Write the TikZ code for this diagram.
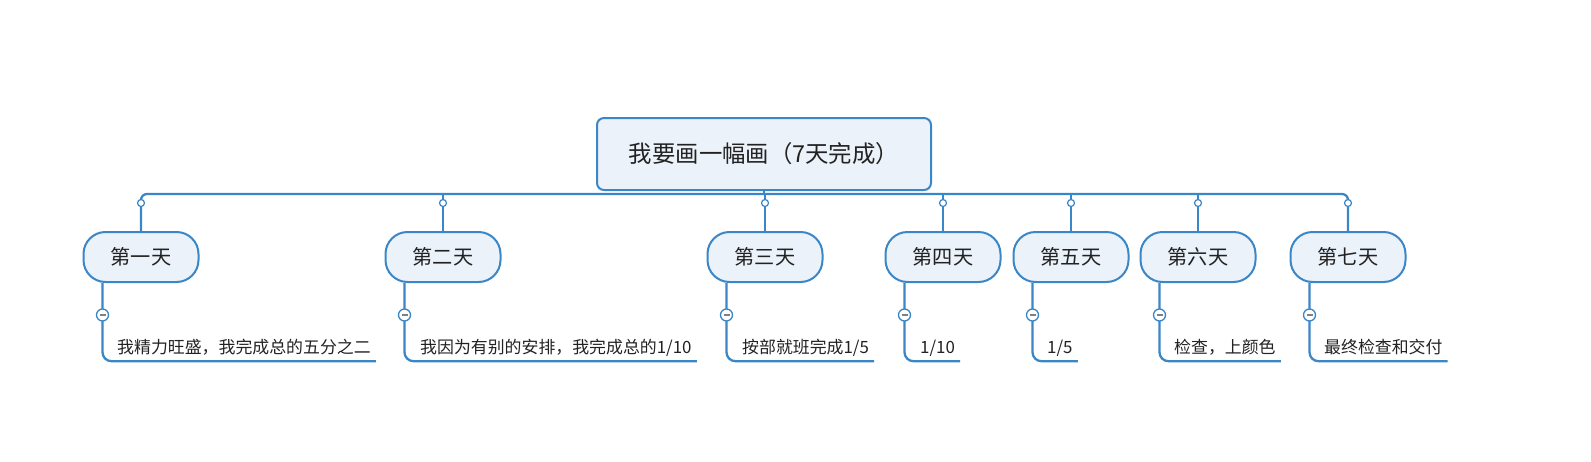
\documentclass[tikz,border=0pt]{standalone}
\usepackage{fontspec}
\setmainfont{Noto Sans CJK SC}
\definecolor{mblue}{HTML}{3A86C6}
\definecolor{mfill}{HTML}{EBF2FA}
\definecolor{mtext}{HTML}{222222}
\begin{document}
\begin{tikzpicture}[x=1pt,y=-1pt,
  conn/.style={draw=mblue, line width=2.3pt},
  rootbox/.style={draw=mblue, fill=mfill, line width=2pt, rounded corners=7pt,
    minimum width=334pt, minimum height=72pt, text=mtext,
    font=\fontsize{23.4}{28}\selectfont},
  daybox/.style={draw=mblue, fill=mfill, line width=2pt, rounded corners=22pt,
    minimum width=115pt, minimum height=50pt, text=mtext,
    font=\fontsize{20.2}{24}\selectfont},
  leaf/.style={anchor=base west, inner xsep=5pt, inner ysep=8pt, text depth=0pt,
    text=mtext, font=\fontsize{16.9}{20}\selectfont},
  knob/.style={circle, draw=mblue, fill=white, line width=1.2pt, inner sep=0pt,
    minimum size=7pt},
  collapse/.style={circle, draw=mblue, fill=white, line width=1.3pt, inner sep=0pt,
    minimum size=12pt,
    path picture={\draw[gray, line width=1.6pt]
      ([xshift=-3pt]path picture bounding box.center) --
      ([xshift=3pt]path picture bounding box.center);}}
]
\useasboundingbox (0,0) rectangle (1591,461);

\node[rootbox] (root) at (764,154) {我要画一幅画（7天完成）\hspace{12pt}};
\coordinate (bus) at (764,194);

\node[daybox] (d1) at (141,257)  {第一天};
\node[daybox] (d2) at (443,257)  {第二天};
\node[daybox] (d3) at (765,257)  {第三天};
\node[daybox] (d4) at (943,257)  {第四天};
\node[daybox] (d5) at (1071,257) {第五天};
\node[daybox] (d6) at (1198,257) {第六天};
\node[daybox] (d7) at (1348,257) {第七天};

\node[leaf] (l1) at (112,353)  {我精力旺盛，我完成总的五分之二};
\node[leaf] (l2) at (415,353)  {我因为有别的安排，我完成总的1/10};
\node[leaf] (l3) at (737,353)  {按部就班完成1/5};
\node[leaf] (l4) at (915,353)  {1/10};
\node[leaf] (l5) at (1042,353) {1/5};
\node[leaf] (l6) at (1169,353) {检查，上颜色};
\node[leaf] (l7) at (1319,353) {最终检查和交付};

% bus
\draw[conn] (root.south) -- (bus);
\draw[conn, rounded corners=6pt] (d1.north) -- (d1.north |- bus) -- (d7.north |- bus) -- (d7.north);
\foreach \i in {2,...,6} \draw[conn] (d\i.north) -- (d\i.north |- bus);
\foreach \i in {1,...,7} \node[knob] at ([yshift=-9pt]d\i.north |- bus) {};

% leaves
\foreach \i in {1,...,7} {
  \draw[conn, rounded corners=9pt] ([xshift=20pt]d\i.south west) |- (l\i.south east);
  \node[collapse] at ([xshift=20pt]d\i.south west |- 0,315) {};
}
\end{tikzpicture}
\end{document}
